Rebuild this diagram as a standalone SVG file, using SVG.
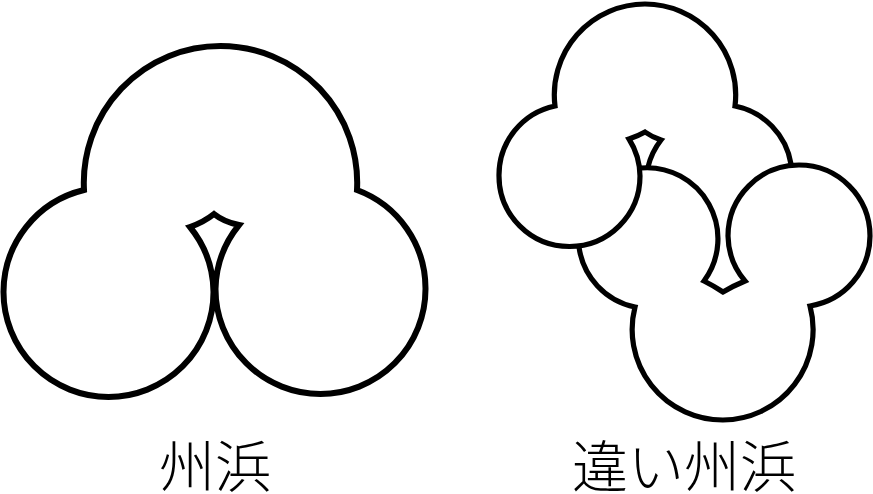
<svg xmlns="http://www.w3.org/2000/svg" width="873" height="494" viewBox="0 0 873 494">
<style>
.o{fill:none;stroke:#000;stroke-linejoin:miter;stroke-miterlimit:8}
.l{font-family:"Noto Sans CJK JP","Noto Sans CJK SC",serif;font-size:56px;fill:#000;text-anchor:middle;font-weight:300}
</style>
<rect width="873" height="494" fill="#fff"/>
<g id="shu-hama">
<path class="o" stroke-width="6" d="M84 190A136.700 136.700 0 0 1 220.500 46A136.700 136.700 0 0 1 357 190A105 105 0 0 1 425.500 289A105 105 0 0 1 215.500 289A105 105 0 0 1 239 225Q224 222 214 214Q204 222 190 227A105 105 0 0 1 213.500 292A105 105 0 0 1 3.500 292A105 105 0 0 1 84 190Z"/>
</g>
<g id="chigai-shu-hama">
<path class="o" stroke-width="5.200" d="M791 164A71 71 0 0 0 735 106A90.800 90.800 0 0 0 645 4A90.800 90.800 0 0 0 555 106A70.500 70.500 0 0 0 499 176A70.500 70.500 0 0 0 640 176A70.500 70.500 0 0 0 629 139Q638 136 645 132Q652 137 661 140A71 71 0 0 0 648 167"/>
<path class="o" stroke-width="5.200" d="M579 247A71 71 0 0 0 635 307A90.500 90.500 0 0 0 723 420A90.500 90.500 0 0 0 810 306A71 71 0 0 0 870 236A71 71 0 0 0 728 236A71 71 0 0 0 745 281Q733 286 723 292Q714 286 704 281A71 71 0 0 0 641 168"/>
</g>
<text id="label-shu-hama" class="l" lang="ja" x="215" y="487">州浜</text>
<text id="label-chigai" class="l" lang="ja" x="684" y="487">違い州浜</text>
</svg>
